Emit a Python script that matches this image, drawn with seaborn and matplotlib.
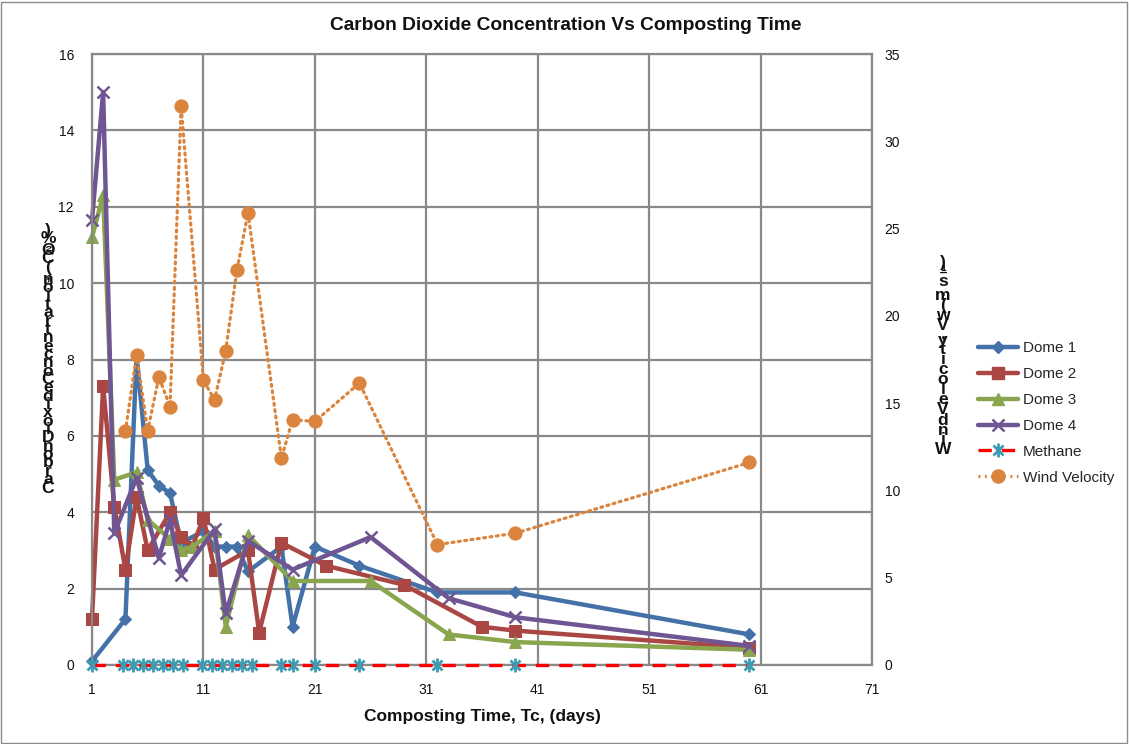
import numpy as np
import pandas as pd
import matplotlib
matplotlib.use("Agg")
import matplotlib.pyplot as plt
from matplotlib.path import Path
from matplotlib.lines import Line2D
from matplotlib.patches import Rectangle
import seaborn as sns

# ---- data -------------------------------------------------------------
days_d1 = [1, 4, 5, 6, 7, 8, 9, 11, 12, 13, 14, 15, 18, 19, 21, 25, 32, 39, 60]
co2_d1 = [0.1, 1.2, 8.1, 5.1, 4.7, 4.5, 3.2, 3.5, 3.1, 3.1, 3.1, 2.45, 3.1, 1.0, 3.1, 2.6, 1.9, 1.9, 0.8]

days_d2 = [1, 2, 3, 4, 5, 6, 8, 9, 10, 11, 12, 15, 16, 18, 22, 29, 36, 39, 60]
co2_d2 = [1.2, 7.3, 4.15, 2.5, 4.4, 3.0, 4.0, 3.35, 3.1, 3.85, 2.5, 3.0, 0.85, 3.2, 2.6, 2.1, 1.0, 0.9, 0.45]

days_d3 = [1, 2, 3, 5, 6, 8, 9, 10, 12, 13, 15, 19, 26, 33, 39, 60]
co2_d3 = [11.2, 12.3, 4.85, 5.05, 3.8, 3.3, 3.0, 3.1, 3.5, 1.0, 3.4, 2.2, 2.2, 0.8, 0.6, 0.4]

days_d4 = [1, 2, 3, 5, 7, 8, 9, 12, 13, 15, 19, 26, 33, 39, 60]
co2_d4 = [11.65, 15.0, 3.45, 4.9, 2.8, 3.8, 2.35, 3.55, 1.35, 3.25, 2.5, 3.35, 1.75, 1.25, 0.5]

days_ch4 = [1, 3.8, 4.7, 5.6, 6.5, 7.4, 8.3, 9.2, 10.9, 11.8, 12.7, 13.6, 14.5, 15.4,
            18, 19, 21, 25, 32, 39, 60]
ch4 = [0.0] * len(days_ch4)

days_wind = [4, 5, 6, 7, 8, 9, 11, 12, 13, 14, 15, 18, 19, 21, 25, 32, 39, 60]
wind = [13.4, 17.75, 13.4, 16.5, 14.8, 32.0, 16.3, 15.2, 18.0, 22.6, 25.9, 11.85,
        14.05, 13.95, 16.15, 6.9, 7.55, 11.6]

x_ticks = [1, 11, 21, 31, 41, 51, 61, 71]
y_left_ticks = [0, 2, 4, 6, 8, 10, 12, 14, 16]
y_right_ticks = [0, 5, 10, 15, 20, 25, 30, 35]

title = "Carbon Dioxide Concentration Vs Composting Time"
x_label = "Composting Time, Tc, (days)"
y_left_label = "Carbon Dioxide Concentration,(CO\u2082%)"
y_right_label = "Wind Velocity, Vw (m.s\u207b\u00b9)"

# ---- style ------------------------------------------------------------
sns.set_theme(style="white")
plt.rcParams["font.family"] = ["Liberation Sans", "DejaVu Sans"]

W, H = 1129, 744
fig = plt.figure(figsize=(W / 100, H / 100), dpi=100)
fig.patch.set_facecolor("white")

L, R, T, B = 92, 872, 54, 665
ax = fig.add_axes([L / W, 1 - B / H, (R - L) / W, (B - T) / H])
ax2 = ax.twinx()

grid_c = "#898989"
text_c = "#111111"
c1, c2, c3, c4 = "#4471A8", "#AA4643", "#89A54E", "#6F5592"
c_ch4_line, c_ch4_mk, c_wind = "#FF0000", "#3D9BB2", "#DB843D"

asterisk = Path(
    [(0, -1), (0, 1), (-0.72, -0.72), (0.72, 0.72), (-0.72, 0.72), (0.72, -0.72)],
    [Path.MOVETO, Path.LINETO, Path.MOVETO, Path.LINETO, Path.MOVETO, Path.LINETO],
)

series = [
    ("Dome 1", days_d1, co2_d1, dict(color=c1, marker="D", markersize=6.5, markeredgecolor=c1,
                                     linewidth=3.2, linestyle="-")),
    ("Dome 2", days_d2, co2_d2, dict(color=c2, marker="s", markersize=8, markeredgecolor=c2,
                                     linewidth=3.2, linestyle="-")),
    ("Dome 3", days_d3, co2_d3, dict(color=c3, marker="^", markersize=8.5, markeredgecolor=c3,
                                     linewidth=3.2, linestyle="-")),
    ("Dome 4", days_d4, co2_d4, dict(color=c4, marker="x", markersize=8, markeredgecolor=c4,
                                     markeredgewidth=1.8, linewidth=3.2, linestyle="-")),
    ("Methane", days_ch4, ch4, dict(color=c_ch4_line, marker=asterisk, markersize=10,
                                    markeredgecolor=c_ch4_mk, markerfacecolor="none",
                                    markeredgewidth=2.0, linewidth=2.4, linestyle=(0, (4, 3)))),
]

for name, xs, ys, kw in series:
    df = pd.DataFrame({"day": xs, "val": ys})
    sns.lineplot(data=df, x="day", y="val", ax=ax, estimator=None, sort=False, **kw)
# markers on the frame edges must not be cut; methane sits on the zero line
for ln in ax.get_lines():
    ln.set_clip_on(False)
ax.get_lines()[-1].set_zorder(3)

dfw = pd.DataFrame({"day": days_wind, "val": wind})
sns.lineplot(data=dfw, x="day", y="val", ax=ax2, estimator=None, sort=False,
             color=c_wind, marker="o", markersize=9.5, markeredgecolor=c_wind,
             linewidth=2.3, linestyle=(0, (0.6, 1.4)), dash_capstyle="round")

# ---- axes -------------------------------------------------------------
ax.set_xlim(1, 71)
ax.set_ylim(0, 16)
ax2.set_ylim(0, 35)
ax.set_xticks(x_ticks)
ax.set_yticks(y_left_ticks)
ax2.set_yticks(y_right_ticks)
ax.set_xlabel("")
ax.set_ylabel("")
ax2.set_ylabel("")

ax.grid(True, color=grid_c, linewidth=1.6)
ax2.grid(False)
for s in ax.spines.values():
    s.set_color(grid_c)
    s.set_linewidth(1.6)
for s in ax2.spines.values():
    s.set_visible(False)
ax.tick_params(axis="both", length=0, labelsize=10, colors=text_c)
ax.tick_params(axis="y", pad=13)
ax.tick_params(axis="x", pad=13)
ax2.tick_params(axis="y", length=0, labelsize=10, colors=text_c, pad=9)
ax.set_zorder(ax2.get_zorder() - 1)
ax.patch.set_visible(True)
ax2.patch.set_visible(False)

# ---- titles -------------------------------------------------------------
fig.text(566 / W, 1 - 26 / H, title, ha="center", va="center", fontsize=13.8,
         fontweight="bold", color=text_c)
fig.text((L + R) / 2 / W, 1 - 717 / H, x_label, ha="center", va="center", fontsize=12.5,
         fontweight="bold", color=text_c)


def stacked_label(text, xc, y_top, step):
    """Write a label as upright characters stacked bottom-to-top."""
    chars = [ch for ch in text if ch != " "][::-1]
    y = y_top
    for ch in chars:
        fig.text(xc / W, 1 - y / H, ch, ha="center", va="center", fontsize=12.5,
                 fontweight="bold", color=text_c)
        y += step * (0.45 if ch in "\u207b\u00b9\u2082,." else 1.0)


stacked_label(y_left_label, 48, 230, 8.35)
stacked_label(y_right_label, 943, 262, 10.0)

# ---- legend -----------------------------------------------------------
handles = []
for name, xs, ys, kw in series:
    handles.append(Line2D([], [], **kw))
handles.append(Line2D([], [], color=c_wind, marker="o", markersize=9.5, markeredgecolor=c_wind,
                      linewidth=2.3, linestyle=(0, (0.6, 1.4))))
labels = [s[0] for s in series] + ["Wind Velocity"]
fig.legend(handles, labels, loc="upper left", bbox_to_anchor=(972 / W, 1 - 335 / H),
           frameon=False, fontsize=11, handlelength=2.6, handletextpad=0.35,
           labelspacing=0.78, borderaxespad=0)

# outer chart border
fig.patches.append(Rectangle((1 / W, 1 / H), 1 - 3 / W, 1 - 3 / H, transform=fig.transFigure,
                             fill=False, edgecolor="#8c8c8c", linewidth=1.0))

fig.savefig("out.png", dpi=100, facecolor="white")
